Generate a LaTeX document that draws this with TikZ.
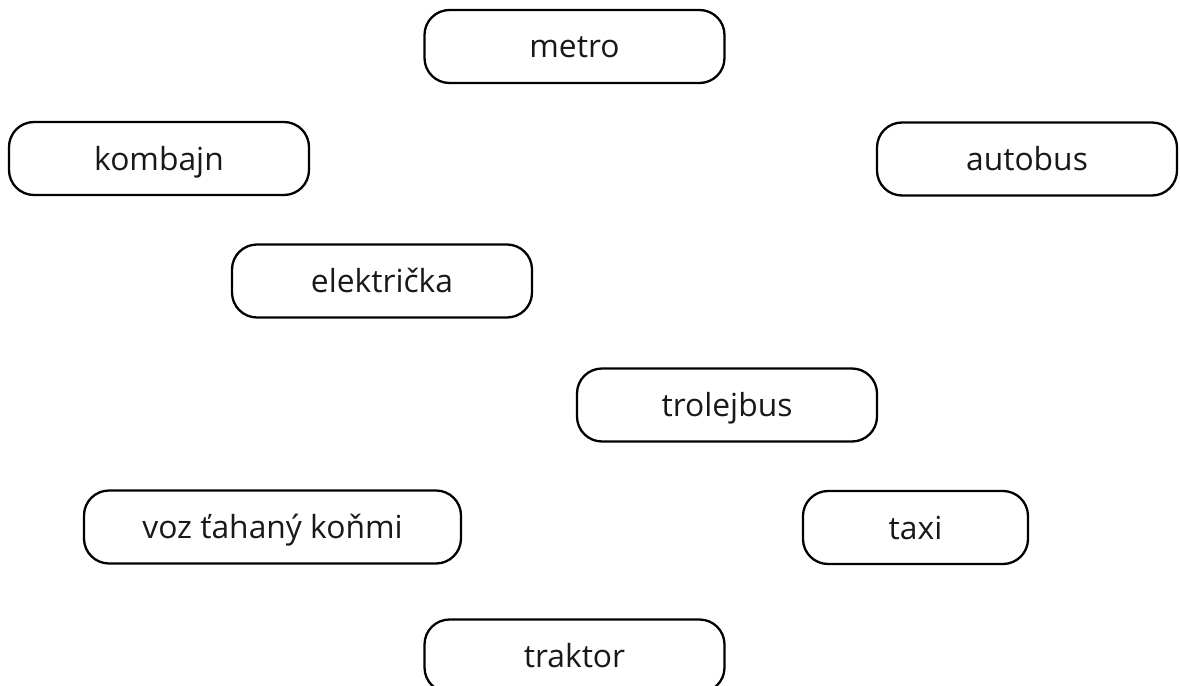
\documentclass[tikz,border=0pt]{standalone}
\usepackage{fontspec}
\setmainfont{Open Sans}
\begin{document}
\begin{tikzpicture}[x=1pt,y=-1pt,
  pill/.style={draw=black, line width=2.3pt, rounded corners=25pt, fill=white,
    minimum width=300pt, minimum height=73pt, inner sep=0pt,
    font=\fontsize{31.8pt}{38pt}\selectfont, text height=25pt, text depth=2pt, text=black!90}]
\useasboundingbox (0,0) rectangle (1180,685);
\clip (0,0) rectangle (1180,685);
\node[pill] (metro) at (574.5,46.5) {metro};
\node[pill] (kombajn) at (159,158.5) {kombajn};
\node[pill] (autobus) at (1027,159) {autobus};
\node[pill] (elektricka) at (382,281) {električka};
\node[pill] (trolejbus) at (727,405) {trolejbus};
\node[pill, minimum width=377pt] (voz) at (272.5,527) {voz ťahaný koňmi};
\node[pill, minimum width=225pt] (taxi) at (915.5,527.5) {taxi};
\node[pill] (traktor) at (574.5,656) {traktor};
\end{tikzpicture}
\end{document}
